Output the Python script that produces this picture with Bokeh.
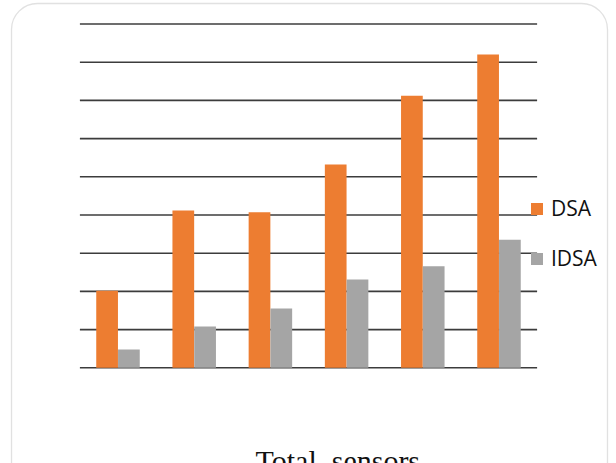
from bokeh.plotting import figure
from bokeh.models import (FactorRange, Range1d, BoxAnnotation, Label, Legend,
                          LegendItem, ColumnDataSource)
from bokeh.transform import dodge
from bokeh.embed import file_html
from bokeh.resources import INLINE

categories = ["1", "2", "3", "4", "5", "6"]
dsa = [2.02, 4.12, 4.07, 5.32, 7.12, 8.20]
idsa = [0.48, 1.08, 1.55, 2.31, 2.66, 3.35]
grid_values = [0, 1, 2, 3, 4, 5, 6, 7, 8, 9]
series = ["DSA", "IDSA"]
x_title = "Total\u00a0\u00a0sensors"

src = ColumnDataSource(dict(cat=categories, dsa=dsa, idsa=idsa))
gsrc = ColumnDataSource(dict(y=grid_values,
                             x0=[categories[0]] * len(grid_values),
                             x1=[categories[-1]] * len(grid_values)))

p = figure(width=616, height=463,
           x_range=FactorRange(*categories, range_padding=1.042,
                               range_padding_units="absolute"),
           y_range=Range1d(-2.505, 9.615),
           output_backend="svg", toolbar_location=None,
           min_border_left=0, min_border_right=0,
           min_border_top=0, min_border_bottom=0)
p.outline_line_color = None
p.background_fill_color = "white"
p.border_fill_color = "white"
p.xaxis.visible = False
p.yaxis.visible = False
p.xgrid.visible = False
p.ygrid.visible = False

p.segment(x0=dodge("x0", -0.5, range=p.x_range), x1=dodge("x1", 0.5, range=p.x_range),
          y0="y", y1="y", source=gsrc, line_color="#3c3c3c", line_width=1.6)

r1 = p.vbar(x=dodge("cat", -0.143, range=p.x_range), top="dsa", width=0.285,
            source=src, fill_color="#ED7D31", line_color=None)
r2 = p.vbar(x=dodge("cat", 0.143, range=p.x_range), top="idsa", width=0.285,
            source=src, fill_color="#A5A5A5", line_color=None)

legend = Legend(items=[LegendItem(label=series[0], renderers=[r1]),
                       LegendItem(label=series[1], renderers=[r2])],
                location=(529, 191), padding=0, margin=0,
                border_line_color=None, background_fill_alpha=0,
                glyph_width=15, glyph_height=15, label_height=15,
                label_standoff=7, spacing=22,
                label_text_font="Open Sans", label_text_font_size="21px",
                label_text_color="#111111")
p.add_layout(legend, "center")

border = BoxAnnotation(left=11, right=607, top=3, bottom=490,
                       left_units="canvas", right_units="canvas",
                       top_units="canvas", bottom_units="canvas",
                       fill_alpha=0, line_color="#9a9a9a", line_width=1.3,
                       border_radius=26)
p.add_layout(border)

lab = Label(x=255, y=460, x_units="canvas", y_units="canvas", text=x_title,
            text_font="Liberation Serif", text_font_size="30px",
            text_baseline="alphabetic", text_color="#111111")
p.add_layout(lab)

open("out.html", "w").write(file_html(p, INLINE))
